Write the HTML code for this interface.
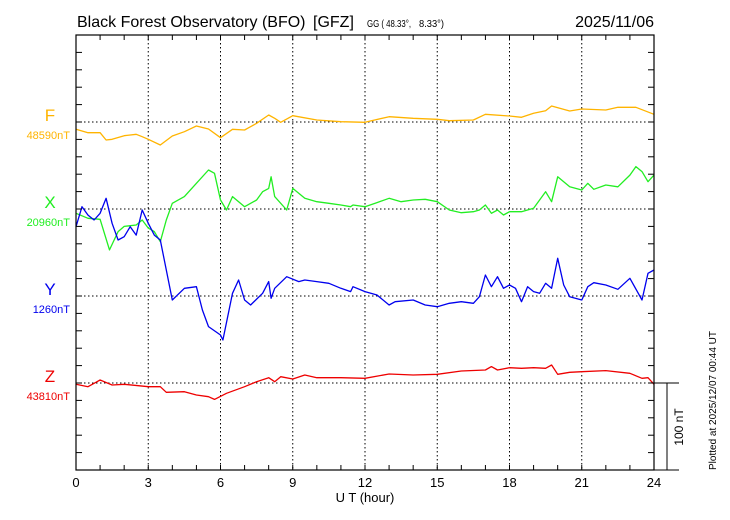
<!DOCTYPE html>
<html><head><meta charset="utf-8"><style>
html,body{margin:0;padding:0;background:#fff;}
svg{display:block;font-family:"Liberation Sans",sans-serif;}
</style></head><body>
<svg id="chart" width="730" height="520" viewBox="0 0 730 520">
<text x="77" y="27" font-size="16">Black Forest Observatory (BFO)</text>
<text x="313" y="27" font-size="16">[GFZ]</text>
<text x="367" y="27" font-size="10" textLength="44" lengthAdjust="spacingAndGlyphs">GG ( 48.33°,</text>
<text x="419" y="27" font-size="10" textLength="25" lengthAdjust="spacingAndGlyphs">8.33°)</text>
<text x="654" y="27" font-size="16" text-anchor="end">2025/11/06</text>
<text font-size="10" transform="translate(716,470) rotate(-90)" x="0" y="0">Plotted at 2025/12/07 00:44 UT</text>
<text font-size="12" transform="translate(683,427) rotate(-90)" text-anchor="middle">100 nT</text>
<text x="365" y="502" font-size="13" text-anchor="middle">U T (hour)</text>
<g id="grid"></g>
<g id="series"></g>
<rect x="76" y="35" width="578" height="435" fill="none" stroke="#000" stroke-width="1.2"/>
<g id="ticks"></g>
<g id="labels"></g>
</svg>
<script>
const xTickLabels=[0,3,6,9,12,15,18,21,24];
const seriesNames=["F","X","Y","Z"];
const baseLabels=["48590nT","20960nT","1260nT","43810nT"];
const colors=["#ffb400","#22ee22","#0000ee","#ee0000"];
const fH=[0,0.5,1,1.25,1.5,2,2.5,2.75,3,3.5,4,4.5,5,5.5,6,6.5,7,7.5,8,8.25,8.5,9,10,11,12,13,14,15,15.5,16.5,17,18,18.5,19,19.5,19.75,20.5,21,22,22.5,23.25,24];
const fV=[-8.4,-12.3,-12.3,-20.7,-19.9,-15.7,-14.1,-16.9,-19.9,-26.4,-16.1,-11.2,-4.6,-8,-18,-8.4,-9.2,-1.5,8,4.3,-0.3,7.2,2.3,0.3,-0.3,6.1,4.3,3.1,1.5,2.3,8.9,6.9,5.4,10,13,18.4,12.6,15,13.8,16.9,16.9,8.9];
const xH=[0,0.5,1,1.39,1.75,2,2.5,2.75,3,3.25,3.5,3.75,4,4.5,5,5.5,5.75,6,6.25,6.5,7,7.5,7.75,8,8.1,8.25,8.75,9,9.5,10,10.5,11,11.4,11.5,12,12.5,13,13.5,14,14.5,15,15.5,16,16.5,16.75,17,17.25,17.5,17.75,18,18.5,19,19.5,19.75,20,20.5,21,21.25,21.5,22,22.5,23,23.25,23.5,23.75,24];
const xV=[-5,-10.7,-11.8,-47,-26,-20,-18.4,-12.6,-22,-26,-37.6,-12.6,6.6,14.2,29.5,44.8,41,10.3,-1.1,14.2,2.6,10.3,19.9,23.7,37,14.2,-1.1,23.7,12.3,8.4,6.6,4.6,2.6,4.6,2.6,7.3,12.3,8.4,10.3,11.1,8.4,-1.1,-4.2,-3.1,-1.1,4.6,-5,-1.1,-6.9,-3.1,-3.1,0.8,19.9,8.4,37,25.5,21.8,29.5,22.6,27.6,25.5,39,48.7,43,31.4,39];
const yH=[0,0.25,0.5,0.75,1,1.25,1.5,1.75,2,2.25,2.5,2.75,3,3.25,3.5,3.75,4,4.5,5,5.25,5.5,6,6.1,6.5,6.75,7,7.25,7.75,8,8.1,8.25,8.75,9.25,9.5,10,10.5,11,11.4,11.5,12,12.5,13,13.25,14,14.5,15,15.5,16,16.5,16.75,17,17.25,17.5,17.75,18,18.25,18.5,18.75,19,19.25,19.5,19.75,20,20.25,20.5,21,21.25,21.5,22,22.5,23,23.5,23.75,24];
const yV=[79.7,102.6,93,87.4,95,112.3,83.6,64.4,68.2,79.7,70,98.9,83.6,70,64.4,29.9,-4.6,8.8,10.7,-16.1,-35.2,-44.8,-50.6,3.1,18.4,-4.6,-10.3,3.1,16.5,-2.6,8.8,22.2,16.5,18.4,16.5,14.6,8.8,5,10.7,5,1.1,-10.3,-6.6,-4.6,-10.3,-12.3,-8.4,-6.6,-8.4,-0.8,24.1,10.7,22.2,8.8,12.6,8.8,-6.6,10.7,5,3.1,14.6,8.8,43.3,12.6,-0.8,-4.6,10.7,15.3,12.6,7.7,20.3,-4.6,26.1,29.9];
const zH=[0,0.5,1,1.5,2,3,3.5,3.75,4.5,5,5.5,5.75,6.25,7,7.5,8,8.25,8.5,9,9.5,10,11,12,13,14,15,16,17,17.25,17.5,18,18.5,19,19.5,19.75,20,20.5,21,22,23,23.5,23.75,24];
const zV=[-1.5,-4.2,3.4,-2.3,-1.5,-4.2,-4.2,-10.7,-10,-13.8,-15.7,-18.8,-11.8,-4.2,1.5,6.1,1.5,7.2,4.6,9.2,6.1,6.1,5.4,10.3,9.2,10,13.8,14.9,18.8,14.9,17.6,16.9,17.6,16.9,20.7,10,12.3,13,14.2,11.1,5.4,6.1,-1.5];
const SNS="http://www.w3.org/2000/svg";
const X0=76,X1=654,TOP=35,BOT=470,PXNT=0.87;
const baselines=[122,209,296,383];
const xs=h=>X0+(X1-X0)*h/24;
const ys=(v,i)=>baselines[i]-v*PXNT;
function mk(tag,attrs,parent){const e=document.createElementNS(SNS,tag);for(const k in attrs)e.setAttribute(k,attrs[k]);parent.appendChild(e);return e;}
const grid=document.getElementById('grid'),ticks=document.getElementById('ticks'),labels=document.getElementById('labels'),series=document.getElementById('series');
xTickLabels.forEach(t=>{
 if(t>0&&t<24){const l=mk('line',{x1:xs(t),x2:xs(t),y1:TOP,y2:BOT,stroke:'#000','stroke-dasharray':'1.5,2.5','stroke-width':1},grid);
 
 }
 const tx=mk('text',{x:xs(t),y:487,'font-size':13,'text-anchor':'middle'},labels);tx.textContent=t;
 
 
});
for(let h=1;h<24;h++){mk('line',{x1:xs(h),x2:xs(h),y1:TOP,y2:TOP+5,stroke:'#000'},ticks);mk('line',{x1:xs(h),x2:xs(h),y1:BOT,y2:BOT-5,stroke:'#000'},ticks);}
for(let k=1;k<25;k++){const y=TOP+k*17.4;mk('line',{x1:X0,x2:X0+6,y1:y,y2:y,stroke:'#000'},ticks);mk('line',{x1:X1,x2:X1-6,y1:y,y2:y,stroke:'#000'},ticks);}
baselines.forEach((b,i)=>{
 const l=mk('line',{x1:X0,x2:X1,y1:b,y2:b,stroke:'#000','stroke-dasharray':'1.5,2.5'},grid);
 
 
 const n=mk('text',{x:50,y:b-1,'font-size':17,'text-anchor':'middle',fill:colors[i]},labels);n.textContent=seriesNames[i];
 
 
 const v=mk('text',{x:70,y:b+17,'font-size':11,'text-anchor':'end',fill:colors[i]},labels);v.textContent=baseLabels[i];
 
 
});
[[fH,fV],[xH,xV],[yH,yV],[zH,zV]].forEach((s,i)=>{
 const d=s[0].map((h,j)=>(j?'L':'M')+xs(h).toFixed(1)+','+ys(s[1][j],i).toFixed(1)).join('');
 const p=mk('path',{d:d,fill:'none',stroke:colors[i],'stroke-width':1.3,'stroke-linejoin':'round'},series);
 
 
});
const sb=mk('g',{},ticks);


mk('line',{x1:X1,x2:679,y1:383,y2:383,stroke:'#000'},sb);
mk('line',{x1:X1,x2:679,y1:470,y2:470,stroke:'#000'},sb);
mk('line',{x1:667,x2:667,y1:383,y2:470,stroke:'#000'},sb);
</script>
</body></html>
